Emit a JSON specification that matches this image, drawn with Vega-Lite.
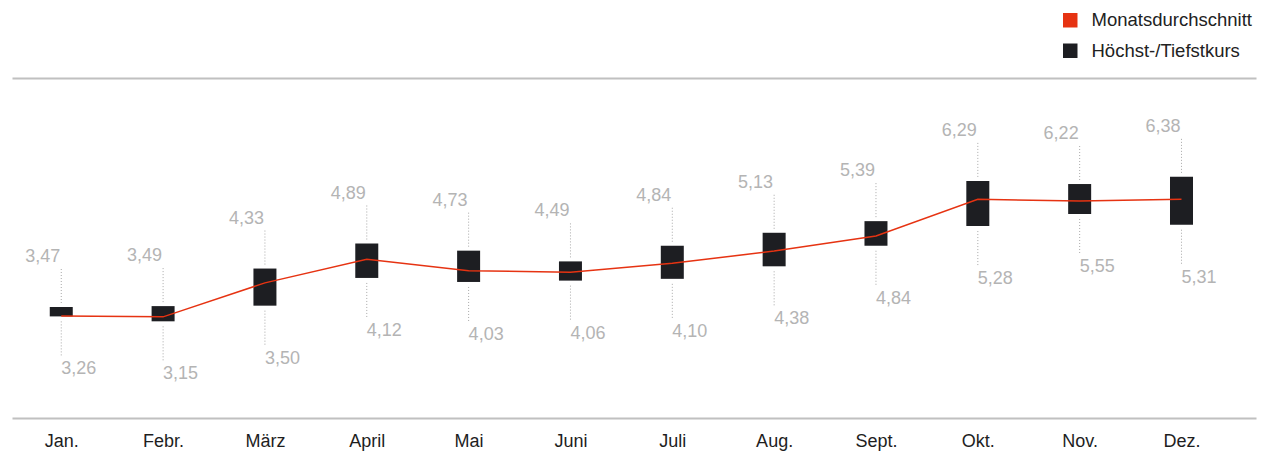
{
  "$schema": "https://vega.github.io/schema/vega-lite/v6.json",
  "autosize": {"type": "none"},
  "padding": {"left": 12, "top": 78, "right": 11, "bottom": 37},
  "width": 1244,
  "height": 340,
  "config": {
    "view": {"stroke": null},
    "font": "Liberation Sans",
    "locale": {"number": {"decimal": ",", "thousands": ".", "grouping": [3], "currency": ["", " €"]}}
  },
  "data": {
    "values": [
      {"month": "Jan.", "hi": 3.47, "lo": 3.26, "avg": 3.27},
      {"month": "Febr.", "hi": 3.49, "lo": 3.15, "avg": 3.25},
      {"month": "März", "hi": 4.33, "lo": 3.50, "avg": 4.01},
      {"month": "April", "hi": 4.89, "lo": 4.12, "avg": 4.54},
      {"month": "Mai", "hi": 4.73, "lo": 4.03, "avg": 4.28},
      {"month": "Juni", "hi": 4.49, "lo": 4.06, "avg": 4.25},
      {"month": "Juli", "hi": 4.84, "lo": 4.10, "avg": 4.45},
      {"month": "Aug.", "hi": 5.13, "lo": 4.38, "avg": 4.72},
      {"month": "Sept.", "hi": 5.39, "lo": 4.84, "avg": 5.06},
      {"month": "Okt.", "hi": 6.29, "lo": 5.28, "avg": 5.88},
      {"month": "Nov.", "hi": 6.22, "lo": 5.55, "avg": 5.84},
      {"month": "Dez.", "hi": 6.38, "lo": 5.31, "avg": 5.88}
    ]
  },
  "encoding": {
    "x": {
      "field": "month",
      "type": "ordinal",
      "sort": null,
      "scale": {"type": "point", "padding": 0.6076, "align": 0.398},
      "axis": {
        "title": null,
        "domain": false,
        "ticks": false,
        "grid": false,
        "labelAngle": 0,
        "labelFontSize": 18,
        "labelColor": "#1e1e1e",
        "labelFont": "Liberation Sans",
        "labelBaseline": "middle",
        "labelPadding": 23
      }
    }
  },
  "layer": [
    {
      "mark": {"type": "bar", "width": 23},
      "encoding": {
        "y": {
          "field": "lo",
          "type": "quantitative",
          "scale": {"domain": [0.988, 8.591], "zero": false, "nice": false},
          "axis": {
            "title": null,
            "values": [0.988, 8.591],
            "grid": true,
            "gridColor": "#c0c0c0",
            "gridWidth": 2,
            "domain": false,
            "ticks": false,
            "labels": false
          }
        },
        "y2": {"field": "hi"},
        "color": {
          "datum": "Höchst-/Tiefstkurs",
          "type": "nominal",
          "scale": {"domain": ["Monatsdurchschnitt", "Höchst-/Tiefstkurs"], "range": ["#e63312", "#1d1e22"]},
          "legend": {
            "orient": "none",
            "legendX": 1049,
            "legendY": -67,
            "title": null,
            "symbolType": "square",
            "symbolSize": 210,
            "symbolStrokeWidth": 0,
            "symbolOpacity": 1,
            "labelFontSize": 18.5,
            "labelFont": "Liberation Sans",
            "labelColor": "#222222",
            "labelOffset": 12,
            "labelLimit": 400,
            "rowPadding": 11.5,
            "padding": 0
          }
        }
      }
    },
    {
      "mark": {"type": "line", "color": "#e63312", "strokeWidth": 1.5},
      "encoding": {"y": {"field": "avg", "type": "quantitative"}}
    },
    {
      "mark": {"type": "rule", "color": "#a8a8a8", "strokeWidth": 1, "strokeDash": [1, 2], "yOffset": -4, "y2Offset": -38},
      "encoding": {"y": {"field": "hi", "type": "quantitative"}, "y2": {"field": "hi"}}
    },
    {
      "mark": {"type": "rule", "color": "#a8a8a8", "strokeWidth": 1, "strokeDash": [1, 2], "yOffset": 5, "y2Offset": 39},
      "encoding": {"y": {"field": "lo", "type": "quantitative"}, "y2": {"field": "lo"}}
    },
    {
      "mark": {"type": "text", "align": "right", "baseline": "middle", "dx": -1, "yOffset": -50, "fontSize": 18, "color": "#b4b4b4", "font": "Liberation Sans"},
      "encoding": {"y": {"field": "hi", "type": "quantitative"}, "text": {"field": "hi", "type": "quantitative", "format": ".2f"}}
    },
    {
      "mark": {"type": "text", "align": "left", "baseline": "middle", "dx": 0, "yOffset": 53, "fontSize": 18, "color": "#b4b4b4", "font": "Liberation Sans"},
      "encoding": {"y": {"field": "lo", "type": "quantitative"}, "text": {"field": "lo", "type": "quantitative", "format": ".2f"}}
    }
  ]
}
